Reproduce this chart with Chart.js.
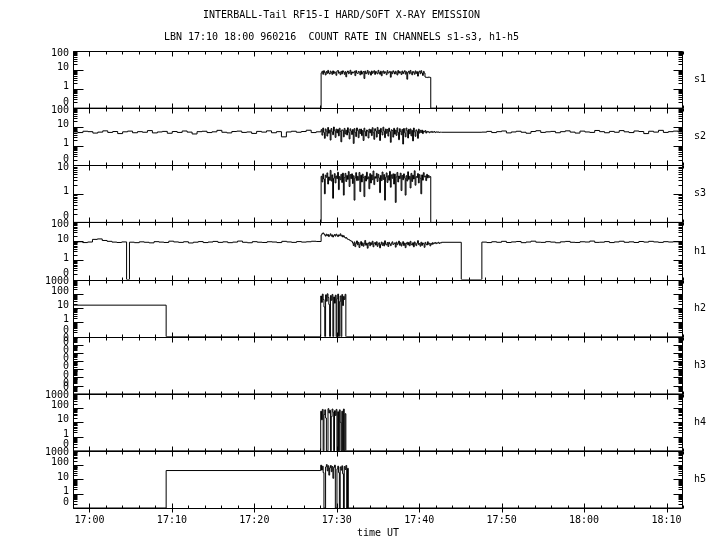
<!DOCTYPE html>
<html>
<head>
<meta charset="utf-8">
<title>INTERBALL-Tail RF15-I</title>
<script src="https://cdn.jsdelivr.net/npm/chart.js@4/dist/chart.umd.min.js"></script>
<style>
  body { margin: 0; background: #fff; }
  canvas { display: block; }
</style>
</head>
<body>
<canvas id="chart" width="720" height="550"></canvas>
<script>
const TITLE = [
  'INTERBALL-Tail RF15-I HARD/SOFT X-RAY EMISSION',
  'LBN 17:10 18:00 960216  COUNT RATE IN CHANNELS s1-s3, h1-h5'
];
const CHANNELS = ['s1', 's2', 's3', 'h1', 'h2', 'h3', 'h4', 'h5'];
const FONT = 'DejaVu Sans Mono';

// time axis in minutes after 17:00 UT
const TIME_MIN = -2;
const TIME_MAX = 72;
const X_TICKS = [0, 10, 20, 30, 40, 50, 60, 70];
const X_LABELS = ['17:00', '17:10', '17:20', '17:30', '17:40', '17:50', '18:00', '18:10'];
const X_MINOR_STEP = 2;

// y tick labels, one decade apart, the lowest is the zero level
const Y_TICKS_10 = ['0', '1', '10'];
const Y_TICKS_100 = ['0', '1', '10', '100'];
const Y_TICKS_1000 = ['0', '1', '10', '100', '1000'];
const Y_TICKS_H3 = ['0', '0', '0', '0', '0', '0', '0', '0'];
const Y_TICKS = [Y_TICKS_100, Y_TICKS_100, Y_TICKS_10, Y_TICKS_100,
  Y_TICKS_1000, Y_TICKS_H3, Y_TICKS_1000, Y_TICKS_1000];
const Y_FLOOR = [0.1, 0.1, 0.1, 0.1, 0.1, 1e-7, 0.1, 0.1];

// count rates
const S1_BURST = [7.1, 8.6, 6.0, 9.2, 7.4, 5.5, 8.3, 6.7, 9.6, 7.0,
  6.2, 8.8, 7.5, 5.9, 9.0, 6.5, 8.1, 7.2, 5.3, 8.7,
  9.4, 6.8, 7.7, 5.7, 8.5, 6.3, 9.1, 7.9, 6.0, 8.2,
  4.4, 7.6, 8.9, 6.4, 7.3, 9.7, 5.8, 8.0, 6.9, 7.4,
  8.6, 5.1, 9.3, 7.0, 6.6, 8.4, 7.8, 5.6, 9.0, 6.1,
  7.7, 8.3, 3.6, 8.8, 6.4, 7.2, 9.5, 6.0, 8.1, 7.6,
  5.4, 8.9, 6.7, 7.9, 9.2, 5.9, 8.4, 7.1, 6.3, 9.6,
  7.4, 6.0, 8.7, 5.0, 7.8, 9.0, 6.6, 8.2, 7.3, 5.7,
  9.3, 6.9, 7.5, 8.5, 4.2, 8.0, 6.4, 9.1, 7.7, 6.2,
  8.6, 7.0, 5.5, 9.4, 6.8, 8.3, 7.2, 5.8, 8.9, 6.5,
  7.9, 9.2, 6.1, 8.1, 3.3, 7.6, 8.7, 6.3, 9.5, 7.1,
  5.6, 8.4, 7.4, 6.0, 9.0, 6.7, 8.2, 4.8, 7.8, 8.8,
  6.4, 9.3, 7.0, 5.2, 8.5, 6.9, 4.3, 4.1, 4.2, 4.0,
  4.3, 4.2, 4.1];

const S2_QUIET_A = [5.6, 5.2, 6.1, 5.8, 4.9, 5.5, 6.4, 5.3, 5.9, 4.6,
  5.7, 6.2, 5.1, 5.8, 5.4, 6.6, 5.0, 5.6, 6.0, 4.8,
  5.9, 5.3, 6.3, 5.5, 4.4, 5.8, 6.1, 5.2, 5.7, 6.8,
  5.4, 5.0, 5.9, 6.2, 5.3, 5.6, 4.7, 6.0, 5.5, 6.4,
  5.1, 5.8, 3.1, 5.6, 6.1, 5.4, 5.9, 6.9, 5.2, 5.7];
const S2_BURST = [7.4, 3.8, 9.0, 5.3, 2.6, 8.1, 6.2, 3.4, 9.6, 4.8,
  7.0, 2.1, 8.5, 5.7, 4.0, 10.2, 6.5, 2.9, 7.9, 5.0,
  7.7, 3.5, 8.8, 6.0, 1.7, 7.2, 6.8, 3.1, 8.6, 4.4,
  6.9, 3.9, 9.3, 5.4, 2.4, 8.2, 6.3, 4.1, 7.5, 1.4,
  8.4, 5.2, 3.2, 9.1, 6.6, 2.8, 7.8, 4.6, 8.0, 3.6,
  6.7, 2.0, 8.9, 5.8, 3.4, 7.1, 6.2, 2.7, 7.9, 5.0,
  7.5, 3.6, 9.4, 5.1, 2.3, 8.3, 6.4, 3.0, 9.7, 4.7,
  7.1, 2.0, 8.6, 5.6, 3.9, 10.0, 6.2, 2.8, 8.0, 4.8,
  7.6, 3.4, 8.9, 5.9, 1.6, 7.3, 6.7, 3.0, 8.7, 4.3,
  7.0, 3.7, 9.2, 5.3, 2.2, 8.3, 6.0, 4.0, 7.6, 1.3,
  8.5, 5.1, 3.1, 9.0, 6.5, 2.7, 7.8, 4.5, 8.1, 3.5,
  6.8, 1.9, 9.0, 5.7, 3.3, 7.2, 6.1, 2.6, 7.9, 4.9,
  6.8, 5.2, 7.0, 4.6, 6.3, 5.7, 6.6, 4.9, 6.0, 5.5,
  5.8, 5.1, 5.7, 5.4, 6.0, 5.3, 5.6, 5.9, 5.2, 5.5,
  5.7, 5.4, 5.6, 5.3, 5.5, 5.4];
const S2_QUIET_B = [5.5, 6.0, 5.2, 5.8, 6.3, 5.0, 5.6, 6.1, 5.4, 4.8,
  5.9, 6.5, 5.3, 5.7, 6.0, 5.1, 5.8, 6.4, 5.5, 4.9,
  6.2, 5.6, 5.3, 6.7, 5.8, 5.1, 6.0, 5.4, 6.6, 5.7,
  5.2, 6.3, 5.9, 4.6, 6.1, 5.5, 6.8, 5.3, 5.8, 6.2, 5.6];

const S3_BURST = [4.1, 2.6, 5.0, 3.3, 1.0, 4.5, 3.8, 5.4, 2.2, 3.9,
  3.0, 6.6, 2.8, 4.6, 0.7, 3.5, 5.1, 2.4, 4.2, 3.4,
  5.7, 1.4, 4.0, 3.1, 4.8, 2.5, 5.3, 0.9, 3.7, 5.2,
  2.7, 4.4, 3.2, 6.0, 1.8, 4.7, 3.4, 5.0, 2.3, 4.3,
  0.6, 3.6, 5.5, 2.9, 4.1, 3.0, 5.6, 1.2, 4.5, 2.6,
  4.9, 3.7, 0.8, 4.2, 2.8, 5.7, 3.3, 3.9, 1.5, 5.1,
  2.4, 4.6, 3.1, 6.3, 2.1, 4.0, 3.5, 5.2, 2.7, 4.8,
  3.6, 1.1, 4.4, 2.9, 5.8, 3.2, 4.7, 0.6, 3.8, 5.4,
  2.5, 4.3, 3.0, 6.1, 1.7, 4.6, 3.5, 5.0, 2.2, 4.9,
  0.5, 3.9, 5.6, 2.6, 4.2, 3.4, 5.3, 1.3, 4.4, 3.1,
  5.0, 3.6, 0.9, 4.3, 2.8, 5.9, 3.2, 4.1, 1.6, 5.2,
  2.7, 4.5, 3.3, 6.4, 2.0, 4.0, 3.7, 5.1, 2.4, 4.7,
  3.5, 1.0, 4.6, 3.0, 5.5, 3.9, 4.2, 2.9, 4.8, 3.6,
  4.4, 3.8, 4.0];

const H1_QUIET_A = [9.0, 9.6, 8.7, 9.3, 12.8, 13.5, 11.2, 10.1, 9.2, 8.8, 9.4];
const H1_QUIET_B = [9.1, 8.6, 9.5, 9.0, 8.4, 9.7, 9.2, 8.8, 10.3, 9.4,
  8.9, 9.6, 8.3, 9.1, 9.8, 8.7, 9.3, 10.0, 8.9, 9.5,
  8.6, 9.2, 10.4, 9.0, 8.5, 9.7, 9.1, 8.8, 9.6, 9.3,
  8.7, 10.1, 9.4, 8.9, 9.8, 9.2, 9.6, 10.2, 9.9];
const H1_BURST = [22, 26, 28, 25,
  22, 19, 24, 20, 23, 18, 21, 25, 19, 22, 17, 20,
  23, 19, 24, 21, 18, 22, 20, 25, 19, 21, 17, 20,
  17, 15, 16, 14, 13, 12.5, 12, 11, 10.5, 10,
  8.2, 6.1, 9.4, 5.3, 7.8, 10.6, 6.6, 8.9, 4.8, 7.2,
  9.8, 6.0, 8.4, 5.6, 7.5, 11.2, 6.3, 8.1, 4.4, 7.7,
  9.1, 5.9, 8.6, 6.8, 10.2, 5.2, 7.9, 8.8, 6.4, 9.6,
  5.5, 7.3, 8.5, 4.6, 7.0, 9.3, 6.2, 8.3, 5.8, 10.8,
  7.1, 6.5, 8.7, 5.4, 9.0, 7.4, 6.0, 8.0, 9.5, 6.9,
  7.6, 8.4, 5.0, 9.2, 6.7, 7.9, 10.4, 6.3, 8.6, 5.7,
  7.4, 9.7, 6.1, 8.2, 4.7, 7.8, 9.0, 6.6, 8.8, 5.9,
  10.1, 7.0, 6.4, 8.5, 5.2, 9.4, 7.3, 6.0, 8.1, 11.0,
  6.8, 7.7, 5.6, 9.1, 6.2, 8.3, 7.5, 4.9, 8.9, 7.2,
  6.5, 9.6, 7.1, 8.0, 5.8, 7.9, 6.9, 8.6, 7.4, 8.2,
  8.8, 7.6, 8.4, 8.1, 9.0, 7.8, 8.5, 8.3];
const H1_QUIET_C = [9.2, 8.7, 9.6, 9.0, 10.1, 8.8, 9.4, 9.9, 8.6, 9.3,
  10.3, 9.1, 8.9, 9.7, 9.2, 8.5, 9.5, 10.0, 9.0, 8.8,
  9.6, 9.3, 10.4, 8.9, 9.1, 9.8, 8.7, 9.4, 10.2, 9.0,
  9.5, 8.8, 9.9, 9.2, 10.1, 9.4, 8.9, 9.7, 9.3, 9.6, 9.5];

const H2_BURST = [70, 25, 95, 40, 12, 0, 85, 30, 100, 55,
  18, 0, 75, 35, 90, 0, 60, 22, 80, 0,
  45, 95, 0, 28, 70, 0, 88, 15, 65, 40, 92, 0];
const H4_BURST = [60, 15, 80, 0, 35, 75, 20, 0, 0, 90,
  45, 70, 0, 25, 85, 50, 0, 65, 30, 80,
  0, 55, 0, 75, 10, 0, 60, 0, 85, 0, 40, 0];
const H5_BURST = [100, 45, 85, 30, 0, 0, 75, 110, 40, 90,
  20, 65, 95, 35, 80, 12, 70, 100, 0, 0,
  55, 85, 30, 0, 75, 45, 90, 25, 0, 80, 50, 95, 0, 60];

// [start, end, values] pieces of each channel, values evenly spread over the piece
const SEGMENTS = {
  s1: [[-2, 28.1, [0]], [28.1, 41.4, S1_BURST], [41.4, 72, [0]]],
  s2: [[-2, 28.1, S2_QUIET_A], [28.1, 42.7, S2_BURST], [42.7, 47.6, [5.4]], [47.6, 72, S2_QUIET_B]],
  s3: [[-2, 28.1, [0]], [28.1, 41.4, S3_BURST], [41.4, 72, [0]]],
  h1: [[-2, 4.5, H1_QUIET_A], [4.5, 4.85, [0]], [4.85, 28.1, H1_QUIET_B], [28.1, 42.7, H1_BURST],
    [42.7, 45.1, [9.0]], [45.1, 47.6, [0]], [47.6, 72, H1_QUIET_C]],
  h2: [[-2, 9.3, [16]], [9.3, 28.05, [0]], [28.05, 31.2, H2_BURST], [31.2, 72, [0]]],
  h3: [[-2, 72, [0]]],
  h4: [[-2, 28.05, [0]], [28.05, 31.2, H4_BURST], [31.2, 72, [0]]],
  h5: [[-2, 9.3, [0]], [9.3, 28.05, [42]], [28.05, 31.4, H5_BURST], [31.4, 72, [0]]]
};

function build_points(segments, floor) {
  let points = [];
  let last = 0;
  segments.forEach(([start, end, values]) => {
    const step = (end - start) / values.length;
    values.forEach((v, j) => {
      points.push({x: start + j * step, y: v === 0 ? floor : v});
      last = v === 0 ? floor : v;
    });
  });
  const end = segments[segments.length - 1][1];
  points.push({x: end, y: last});
  return points;
}

function hline(ctx, x0, x1, y) {
  ctx.moveTo(x0, y);
  ctx.lineTo(x1, y);
}

function vline(ctx, x, y0, y1) {
  ctx.moveTo(x, y0);
  ctx.lineTo(x, y1);
}

const panel_frame = {
  id: 'panel_frame',
  afterDraw(chart) {
    const ctx = chart.ctx;
    const area = chart.chartArea;
    const xs = chart.scales.x;
    const left = Math.round(area.left) + 0.5;
    const right = Math.round(area.right) - 0.5;

    let minors = [];
    for (let t = TIME_MIN; t <= TIME_MAX; t += X_MINOR_STEP) {
      if (t % 10 !== 0) {
        minors.push(t);
      }
    }

    ctx.save();
    ctx.strokeStyle = '#000';
    ctx.fillStyle = '#000';
    ctx.lineWidth = 1;
    ctx.font = '10px "' + FONT + '"';

    CHANNELS.forEach((name, i) => {
      const s = chart.scales['y' + i];
      const top = Math.round(s.top) + 0.5;
      const bottom = Math.round(s.bottom) + 0.5;
      const labels = Y_TICKS[i];

      ctx.beginPath();
      hline(ctx, left, right, top);
      hline(ctx, left, right, bottom);
      vline(ctx, left, top, bottom);
      vline(ctx, right, top, bottom);

      s.ticks.forEach(t => {
        const y = Math.round(s.getPixelForValue(t.value)) + 0.5;
        hline(ctx, left, left + 10, y);
        hline(ctx, right - 9, right, y);
        for (let m = 2; m < 10; m++) {
          const v = t.value * m;
          if (v >= s.max) {
            break;
          }
          const ym = Math.round(s.getPixelForValue(v)) + 0.5;
          hline(ctx, left, left + 4, ym);
          hline(ctx, right - 4, right, ym);
        }
      });

      X_TICKS.forEach(t => {
        const x = Math.round(xs.getPixelForValue(t)) + 0.5;
        vline(ctx, x, top, top + 5);
        vline(ctx, x, bottom - 5, bottom);
        if (i === CHANNELS.length - 1) {
          vline(ctx, x, bottom, bottom + 4);
        }
      });
      minors.forEach(t => {
        const x = Math.round(xs.getPixelForValue(t)) + 0.5;
        vline(ctx, x, top, top + 3);
        vline(ctx, x, bottom - 3, bottom);
      });
      ctx.stroke();

      ctx.textAlign = 'right';
      ctx.textBaseline = 'middle';
      s.ticks.forEach((t, k) => {
        let y = s.getPixelForValue(t.value) - 2.5;
        if (k === 0) {
          y = s.bottom - 6;
        } else if (k === s.ticks.length - 1) {
          y = s.top + 2;
        }
        ctx.fillText(labels[k], area.left - 4, y);
      });

      ctx.textAlign = 'left';
      ctx.fillText(name, area.right + 11, (s.top + s.bottom) / 2);
    });
    ctx.restore();
  }
};

let scales = {
  x: {
    type: 'linear',
    min: TIME_MIN,
    max: TIME_MAX,
    grid: {display: false, drawTicks: false},
    border: {display: false},
    afterBuildTicks: scale => {
      scale.ticks = X_TICKS.map(v => ({value: v}));
    },
    afterFit: scale => {
      scale.height = 42;
    },
    ticks: {
      color: '#000',
      padding: 6,
      maxRotation: 0,
      autoSkip: false,
      font: {family: FONT, size: 10},
      callback: (value, index) => X_LABELS[index]
    },
    title: {
      display: true,
      text: 'time UT',
      color: '#000',
      font: {family: FONT, size: 10},
      padding: {top: 0, bottom: 11}
    }
  }
};

let datasets = [];

CHANNELS.forEach((name, i) => {
  const floor = Y_FLOOR[i];
  const decades = Y_TICKS[i].length - 1;
  scales['y' + i] = {
    type: 'logarithmic',
    position: 'left',
    stack: 'panels',
    stackWeight: 1,
    weight: CHANNELS.length - i,
    min: floor,
    max: floor * Math.pow(10, decades),
    grid: {display: false},
    border: {display: false},
    ticks: {display: false},
    afterBuildTicks: scale => {
      scale.ticks = Y_TICKS[i].map((label, k) => ({value: floor * Math.pow(10, k)}));
    },
    afterFit: scale => {
      scale.width = 73;
    }
  };
  datasets.push({
    label: name,
    data: build_points(SEGMENTS[name], floor),
    yAxisID: 'y' + i,
    borderColor: '#000',
    borderWidth: 1,
    pointRadius: 0,
    stepped: true,
    fill: false
  });
});

new Chart(document.getElementById('chart'), {
  type: 'line',
  data: {datasets: datasets},
  options: {
    responsive: false,
    animation: false,
    devicePixelRatio: 1,
    layout: {padding: {left: 0, right: 37, top: 0, bottom: 0}},
    scales: scales,
    plugins: {
      legend: {display: false},
      tooltip: {enabled: false},
      title: {
        display: true,
        text: TITLE,
        color: '#000',
        font: {family: FONT, size: 10, weight: 'normal', lineHeight: 2.2},
        padding: {top: 4, bottom: 3}
      }
    }
  },
  plugins: [panel_frame]
});
</script>
</body>
</html>
